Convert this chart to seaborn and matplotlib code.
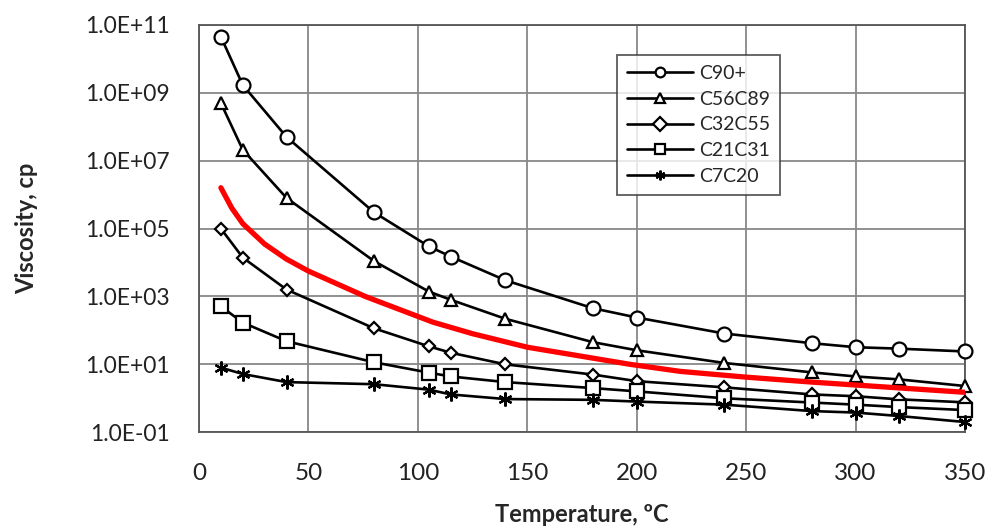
import matplotlib
matplotlib.use("Agg")
import matplotlib.pyplot as plt
import matplotlib.ticker as mticker
import numpy as np
import pandas as pd
import seaborn as sns

# Temperatures (deg C) shared by all fractions
temps = [10, 20, 40, 80, 105, 115, 140, 180, 200, 240, 280, 300, 320, 350]

# Viscosity, cp
c90p = [4.5e10, 1.7e9, 5.0e7, 3.0e5, 3.0e4, 1.5e4, 3.0e3, 450, 240, 81, 42, 32, 29, 24]
c56c89 = [5.0e8, 2.1e7, 8.0e5, 1.1e4, 1.4e3, 800, 220, 45, 26, 11, 5.8, 4.4, 3.6, 2.3]
c32c55 = [1.0e5, 1.4e4, 1.6e3, 115, 34, 22, 10, 5.0, 3.2, 2.1, 1.3, 1.15, 0.93, 0.76]
c21c31 = [510, 170, 48, 11.5, 5.7, 4.4, 3.0, 2.0, 1.6, 1.0, 0.75, 0.65, 0.55, 0.45]
c7c20 = [8.0, 5.2, 3.0, 2.6, 1.8, 1.3, 0.95, 0.9, 0.8, 0.65, 0.42, 0.38, 0.30, 0.20]

# red reference curve (no markers, not in legend)
red_t = [10, 15, 20, 30, 40, 50, 76, 107, 125, 150, 197, 220, 250, 280, 350]
red_v = [1.6e6, 4.0e5, 1.4e5, 3.5e4, 1.26e4, 5.6e3, 1.0e3, 174, 80, 32, 10, 6.2, 4.2, 3.0, 1.5]

series_names = ["C90+", "C56C89", "C32C55", "C21C31", "C7C20"]
series_vals = [c90p, c56c89, c32c55, c21c31, c7c20]
markers = ["o", "^", "D", "s", (6, 2, 0)]
msizes = [10, 9, 6, 10, 10]

ytick_vals = [1e-1, 1e1, 1e3, 1e5, 1e7, 1e9, 1e11]
xtick_vals = list(range(0, 351, 50))

sns.set_style("white")
plt.rcParams["font.family"] = ["Lato", "DejaVu Sans"]

fig = plt.figure(figsize=(9.93, 5.31), dpi=100)
ax = fig.add_axes([0.2004, 0.186, 0.7714, 0.767])

for name, vals, mk, ms in zip(series_names, series_vals, markers, msizes):
    df = pd.DataFrame({"T": temps, "v": vals})
    sns.lineplot(data=df, x="T", y="v", ax=ax, color="black", lw=1.9,
                 marker=mk, markersize=ms, markerfacecolor="white",
                 markeredgecolor="black", markeredgewidth=1.6,
                 label=name, zorder=3, clip_on=False)

red_df = pd.DataFrame({"T": red_t, "v": red_v})
sns.lineplot(data=red_df, x="T", y="v", ax=ax, color="#ff0000", lw=3.8,
             legend=False, zorder=4)

ax.set_yscale("log")
ax.set_ylim(1e-1, 1e11)
ax.set_xlim(0, 350)
ax.set_yticks(ytick_vals)
ax.yaxis.set_minor_locator(mticker.NullLocator())
ax.yaxis.set_major_formatter(mticker.FuncFormatter(
    lambda v, p: "{:.1E}".format(v)))
ax.set_xticks(xtick_vals)

ax.grid(True, color="#888888", lw=1.3)
ax.tick_params(axis="both", length=0, colors="#222222")
ax.tick_params(axis="y", labelsize=16.5, pad=21)
ax.tick_params(axis="x", labelsize=17.5, pad=22)
for s in ax.spines.values():
    s.set_color("#555555")
    s.set_linewidth(1.3)

ax.set_xlabel("Temperature, ºC", fontsize=17, fontweight="bold", labelpad=14)
ax.set_ylabel("Viscosity, cp", fontsize=17, fontweight="bold", labelpad=34)

leg = ax.legend(loc="upper left", bbox_to_anchor=(0.546, 0.926), fontsize=14,
                frameon=True, fancybox=False, edgecolor="#333333",
                handlelength=3.4, handletextpad=0.3, labelspacing=0.45,
                borderpad=0.5, borderaxespad=0)
leg.get_frame().set_linewidth(1.3)
for h in leg.legend_handles:
    h.set_markersize(7)

fig.savefig("out.png", dpi=100)
